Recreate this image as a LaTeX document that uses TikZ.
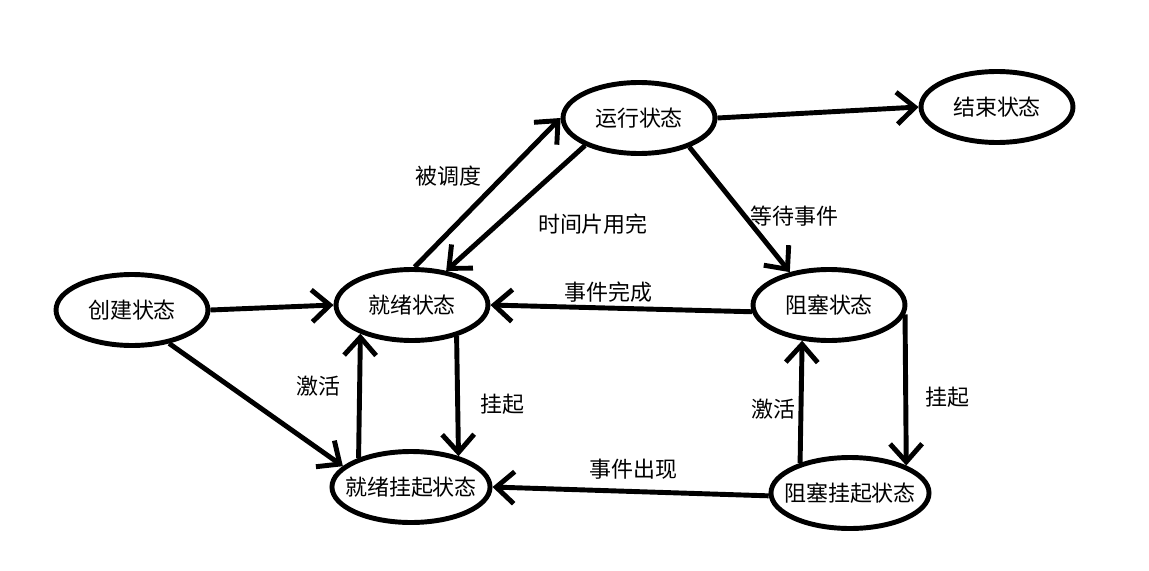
\documentclass[tikz,border=0pt]{standalone}
\usepackage{fontspec}
\setmainfont{Noto Sans CJK SC}
\usetikzlibrary{arrows.meta,positioning,shapes.geometric}

\begin{document}
\begin{tikzpicture}[
  x=0.02cm, y=-0.02cm,
  font=\fontsize{12.5}{15}\selectfont,
  state/.style={draw, ellipse, line width=2.8pt, minimum width=3.04cm,
    minimum height=1.42cm, inner xsep=-0.2cm, inner ysep=0pt},
  arrow/.style={-{Straight Barb[length=3.6mm,width=6.4mm]}, line width=2.8pt},
  lbl/.style={inner sep=2pt}
]
\useasboundingbox (0,0) rectangle (1149,571);

\node[state] (create) at (132,310) {创建状态};
\node[state] (ready) at (412,305) {就绪状态};
\node[state] (run) at (639,118) {运行状态};
\node[state] (end) at (997,107) {结束状态};
\node[state] (block) at (829,305) {阻塞状态};
\node[state] (readysusp) at (411,487) {就绪挂起状态};
\node[state] (blocksusp) at (850,493) {阻塞挂起状态};

\draw[arrow] (create.east) -- (ready.west);
\draw[arrow] (create.-42) -- (readysusp.163);
\draw[arrow] (ready.86) -- node[midway, above left, lbl] (lsched) {被调度} (run.west);
\draw[arrow] (run.207) -- node[midway, below right=0pt and 0.33cm, lbl] (lslice) {时间片用完} (ready.45);
\draw[arrow] (run.east) -- (end.west);
\draw[arrow] (run.-30) -- node[pos=0.55, right, lbl] (lwait) {等待事件} (block.140);
\draw[arrow] (block.185) -- node[pos=0.55, above, lbl] (ldone) {事件完成} (ready.east);
\draw[arrow] (ready.-35) -- node[pos=0.57, right=0.33cm, lbl] (lsusp1) {挂起} (readysusp.33);
\draw[arrow] (readysusp.151) -- node[pos=0.575, left=0.27cm, lbl] (lact1) {激活} (ready.209);
\draw[arrow] (block.-7) -- node[pos=0.55, right=0.27cm, lbl] (lsusp2) {挂起} (blocksusp.26);
\draw[arrow] (blocksusp.149) -- node[pos=0.44, left, lbl] (lact2) {激活} (block.233);
\draw[arrow] (blocksusp.182) -- node[pos=0.49, above=0.13cm, lbl] (lappear) {事件出现} (readysusp.east);
\end{tikzpicture}
\end{document}
